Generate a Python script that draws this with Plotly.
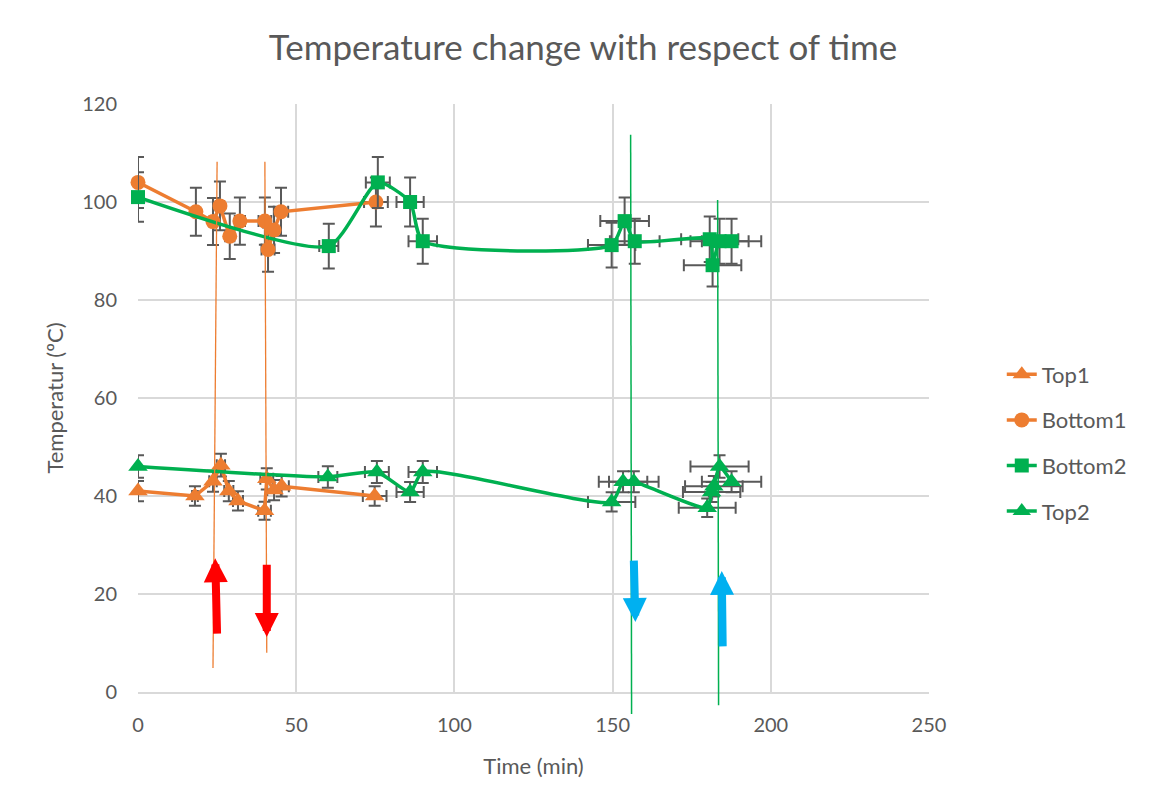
import plotly.graph_objects as go

# ---------------- data ----------------
top1_x = [0, 18, 23.7, 26.2, 28.7, 31.6, 40.0, 40.7, 43.0, 45.4, 74.8]
top1_y = [41, 40, 43, 46.3, 41, 39, 37, 43.5, 41.2, 42, 40]

bottom1_x = [0, 18.3, 23.7, 25.9, 29.0, 32.2, 40.1, 41.1, 43.0, 45.2, 75.2]
bottom1_y = [104, 98, 96, 99.2, 93, 96.1, 96.1, 90.3, 94.3, 98, 100]

bottom2_x = [0, 60.3, 75.8, 86.0, 90.0, 149.7, 153.8, 157.0, 180.7, 181.6, 183.8, 187.6]
bottom2_y = [101, 91, 104, 100, 92, 91.2, 96.1, 92, 92.4, 87.1, 92, 92]

top2_x = [0, 60.0, 75.5, 86.0, 90.0, 149.7, 153.3, 156.7, 179.9, 181.3, 182.0, 183.8, 187.6]
top2_y = [46, 43.9, 44.9, 40.8, 44.9, 38.8, 42.9, 42.9, 37.6, 40.8, 42, 46, 42.9]

err_pct = 5  # percentage error bars on both axes

# reference marker lines (data coords: x_top, y_top, x_bottom, y_bottom)
orange_lines = [(25.0, 108.2, 23.7, 4.9), (40.1, 108.2, 40.7, 8.0)]
green_lines = [(155.7, 113.7, 156.0, -4.5), (183.2, 100.4, 183.5, -2.7)]

# arrows: (tail_x, tail_y, head_x, head_y)
red_arrows = [(25.0, 11.6, 24.4, 27.3), (40.7, 26.3, 40.7, 11.2)]
blue_arrows = [(156.7, 27.1, 157.2, 14.3), (184.8, 9.0, 184.5, 24.7)]

Y_MAX = 120

# ---------------- style ----------------
ORANGE = "#ED7D31"
GREEN = "#00B050"
RED = "#FF0000"
BLUE = "#00B0F0"
TXT = "#595959"
GRID = "#D9D9D9"
FONT = "Lato, 'Open Sans', sans-serif"

ebar = dict(type="percent", value=err_pct, color="#595959", thickness=2, width=6)

fig = go.Figure()


def add(name, x, y, color, symbol, size, shape, group):
    fig.add_trace(go.Scatter(
        x=x, y=y, name=name, mode="lines+markers",
        line=dict(color=color, width=3.5, shape=shape, smoothing=0.6 if shape == "spline" else None),
        marker=dict(color=color, symbol=symbol, size=size),
        error_y=ebar, error_x=ebar,
        legendgroup=group,
    ))


add("Top1", top1_x, top1_y, ORANGE, "triangle-up", 17, "linear", "g1")
add("Bottom1", bottom1_x, bottom1_y, ORANGE, "circle", 15, "linear", "g2")
add("Bottom2", bottom2_x, bottom2_y, GREEN, "square", 14, "spline", "g3")
add("Top2", top2_x, top2_y, GREEN, "triangle-up", 17, "spline", "g4")

shapes = []
for (x0, y0, x1, y1) in orange_lines:
    shapes.append(dict(type="line", xref="x", yref="y", x0=x0, y0=y0, x1=x1, y1=y1,
                       line=dict(color=ORANGE, width=1.3), layer="above"))
# green lines extend below the plot area -> y in paper units (only clipped horizontally)
for (x0, y0, x1, y1) in green_lines:
    shapes.append(dict(type="line", xref="x", yref="paper", x0=x0, y0=y0 / Y_MAX, x1=x1, y1=y1 / Y_MAX,
                       line=dict(color=GREEN, width=1.5), layer="above"))

annotations = []
for arrows, col in ((red_arrows, RED), (blue_arrows, BLUE)):
    for (tx, ty, hx, hy) in arrows:
        annotations.append(dict(
            x=hx, y=hy, ax=tx, ay=ty, xref="x", yref="y", axref="x", ayref="y",
            text="", showarrow=True, arrowhead=2, arrowsize=0.6, arrowwidth=8,
            arrowcolor=col, standoff=0,
        ))

# page body adds an 8px offset; margins compensate so the plot area lands at 138..929 x 104..692
fig.update_layout(
    width=1153, height=808,
    margin=dict(l=130, r=232, t=96, b=124),
    paper_bgcolor="white", plot_bgcolor="white",
    font=dict(family=FONT, color=TXT, size=20),
    title=dict(text="Temperature change with respect of time", x=0.4987, xanchor="center",
               y=1 - 40/808, yanchor="middle", font=dict(size=35, color=TXT, family=FONT)),
    xaxis=dict(range=[0, 250], tickvals=[0, 50, 100, 150, 200, 250],
               showgrid=True, gridcolor=GRID, gridwidth=1.5, zeroline=False,
               showline=True, linecolor=GRID, linewidth=1.5,
               ticks="", tickfont=dict(size=20, color=TXT), ticklabelstandoff=14,
               title=dict(text="Time (min)", font=dict(size=22, color=TXT), standoff=24)),
    yaxis=dict(range=[0, Y_MAX], tickvals=[0, 20, 40, 60, 80, 100, 120],
               showgrid=True, gridcolor=GRID, gridwidth=1.5, zeroline=False,
               showline=False, ticks="", tickfont=dict(size=20, color=TXT),
               ticklabelstandoff=20,
               title=dict(text="Temperatur (ºC)", font=dict(size=22, color=TXT), standoff=12)),
    legend=dict(x=1.092, y=(692 - 443) / 588, xanchor="left", yanchor="middle",
                font=dict(size=22, color=TXT), tracegroupgap=14,
                bgcolor="rgba(0,0,0,0)"),
    shapes=shapes,
    annotations=annotations,
    showlegend=True,
)
fig.update_traces(cliponaxis=False)

fig.write_html("out.html")
